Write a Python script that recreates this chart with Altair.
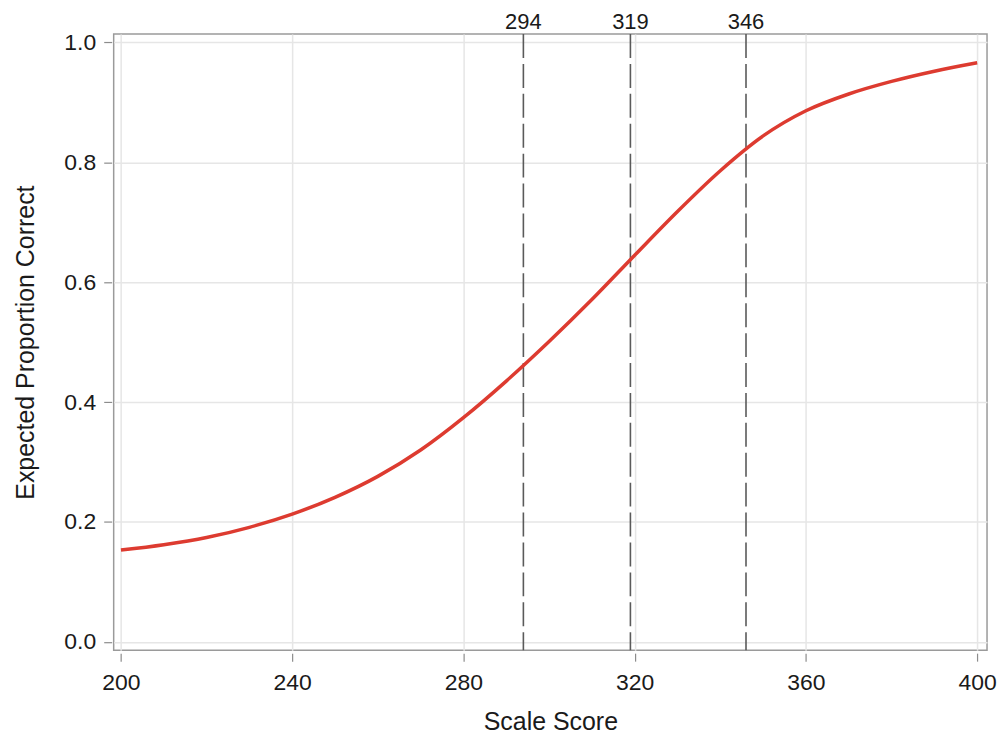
import altair as alt
import pandas as pd

scores = [200, 210, 220, 230, 240, 250, 260, 270, 280, 290, 300,
          310, 320, 330, 340, 350, 360, 370, 380, 390, 400]
proportion = [0.153, 0.162, 0.174, 0.191, 0.213, 0.241, 0.276, 0.320, 0.374, 0.435, 0.501,
              0.571, 0.645, 0.718, 0.786, 0.844, 0.886, 0.914, 0.935, 0.952, 0.966]
cut_scores = [294, 319, 346]
x_ticks = [200, 240, 280, 320, 360, 400]
y_ticks = [0.0, 0.2, 0.4, 0.6, 0.8, 1.0]

curve = pd.DataFrame({"score": scores, "p": proportion})
cuts = pd.DataFrame({"cut": cut_scores, "label": [str(c) for c in cut_scores]})

FONT = "Liberation Sans"

xscale = alt.Scale(domain=[198.3, 402.3], nice=False, zero=False)
yscale = alt.Scale(domain=[-0.014, 1.014], nice=False, zero=False)

xaxis = alt.Axis(values=x_ticks, title="Scale Score", format="d",
                 grid=True, gridColor="#e6e6e6", gridWidth=1.5,
                 domain=False, offset=3, tickSize=8, tickColor="#8c8c8c", tickWidth=1.2,
                 labelFont=FONT, labelFontSize=23, labelColor="#1a1a1a", labelPadding=10,
                 titleFont=FONT, titleFontSize=25, titleFontWeight="normal",
                 titleColor="#1a1a1a", titlePadding=16)
yaxis = alt.Axis(values=y_ticks, title="Expected Proportion Correct", format=".1f",
                 grid=True, gridColor="#e6e6e6", gridWidth=1.5,
                 domain=False, offset=2, tickSize=8, tickColor="#8c8c8c", tickWidth=1.2,
                 labelFont=FONT, labelFontSize=23, labelColor="#1a1a1a", labelPadding=8,
                 titleFont=FONT, titleFontSize=25, titleFontWeight="normal",
                 titleColor="#1a1a1a", titlePadding=25)

line = alt.Chart(curve).mark_line(color="#dd3b30", strokeWidth=3.5, interpolate="monotone").encode(
    x=alt.X("score:Q", scale=xscale, axis=xaxis),
    y=alt.Y("p:Q", scale=yscale, axis=yaxis),
)

rules = alt.Chart(cuts).mark_rule(color="#5a5a5a", strokeWidth=1.6, strokeDash=[24, 6]).encode(
    x=alt.X("cut:Q", scale=xscale),
)

labels = alt.Chart(cuts).mark_text(font=FONT, fontSize=22, color="#1a1a1a",
                                   baseline="alphabetic", align="center").encode(
    x=alt.X("cut:Q", scale=xscale),
    y=alt.value(-5),
    text="label:N",
)

chart = alt.layer(rules, line, labels).properties(
    width=876, height=618,
    autosize=alt.AutoSizeParams(type="none"),
    padding={"left": 106, "top": 25, "right": 10, "bottom": 100},
    background="white",
).configure_view(stroke="#9a9a9a", strokeWidth=1.5)

chart.save("out.html", embed_options={"renderer": "svg", "actions": False})
